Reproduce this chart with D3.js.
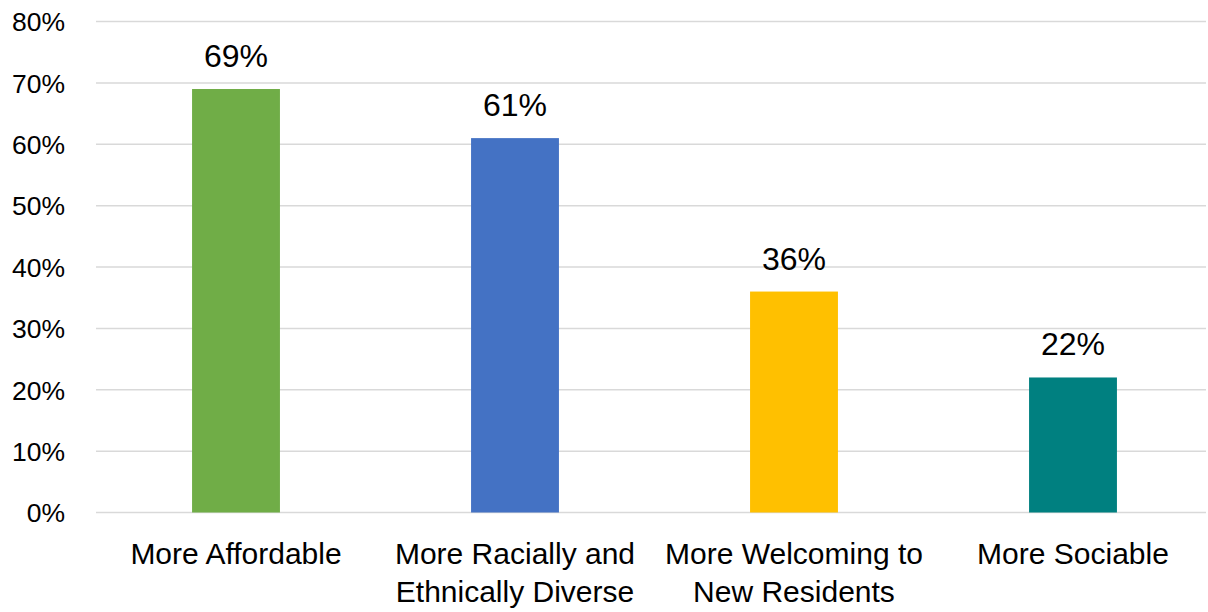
<!DOCTYPE html>
<html><head><meta charset="utf-8">
<script src="https://cdn.jsdelivr.net/npm/d3@7"></script>
<style>html,body{margin:0;padding:0;background:#fff;overflow:hidden}</style>
</head><body>
<svg id="chart" width="1208" height="612"></svg>
<script>
const categories = [["More Affordable"], ["More Racially and", "Ethnically Diverse"], ["More Welcoming to", "New Residents"], ["More Sociable"]];
const values = [69, 61, 36, 22];
const colors = ["#70AD47", "#4472C4", "#FFC000", "#008080"];
const yTicks = [0, 10, 20, 30, 40, 50, 60, 70, 80];

const svg = d3.select("#chart");
const font = "'Liberation Sans', Arial, sans-serif";
const x = d3.scaleBand().domain(d3.range(categories.length)).range([96.5, 1212.5]).paddingInner(0.685).paddingOuter(0.3425);
const y = d3.scaleLinear().domain([0, 80]).range([512.5, 21.5]);

// gridlines
svg.append("g").selectAll("line").data(yTicks).join("line")
  .attr("x1", 96).attr("x2", 1206)
  .attr("y1", d => y(d)).attr("y2", d => y(d))
  .attr("stroke", "#D9D9D9").attr("stroke-width", 1.5);

// y axis labels
const yAxis = d3.axisLeft(y).tickValues(yTicks).tickFormat(d => d + "%").tickSize(0).tickPadding(0);
const ga = svg.append("g").attr("transform", "translate(65,0)").call(yAxis);
ga.select(".domain").remove();
ga.selectAll("text").attr("font-family", font).attr("font-size", 26.5).attr("fill", "#000").attr("dy", "0.35em");

// bars
svg.append("g").selectAll("rect").data(values).join("rect")
  .attr("x", (d, i) => x(i)).attr("width", x.bandwidth())
  .attr("y", d => y(d)).attr("height", d => y(0) - y(d))
  .attr("fill", (d, i) => colors[i]);

// data labels
svg.append("g").selectAll("text").data(values).join("text")
  .attr("x", (d, i) => x(i) + x.bandwidth() / 2)
  .attr("y", d => y(d) - 22)
  .attr("text-anchor", "middle")
  .attr("font-family", font).attr("font-size", 32).attr("fill", "#000")
  .text(d => d + "%");

// category labels
const cl = svg.append("g").selectAll("text").data(categories).join("text")
  .attr("x", (d, i) => x(i) + x.bandwidth() / 2)
  .attr("y", 564)
  .attr("text-anchor", "middle")
  .attr("font-family", font).attr("font-size", 30).attr("fill", "#000");
cl.selectAll("tspan").data(d => d).join("tspan")
  .attr("x", function() { return d3.select(this.parentNode).attr("x"); })
  .attr("dy", (d, j) => j === 0 ? 0 : 38)
  .text(d => d);
</script>
</body></html>
